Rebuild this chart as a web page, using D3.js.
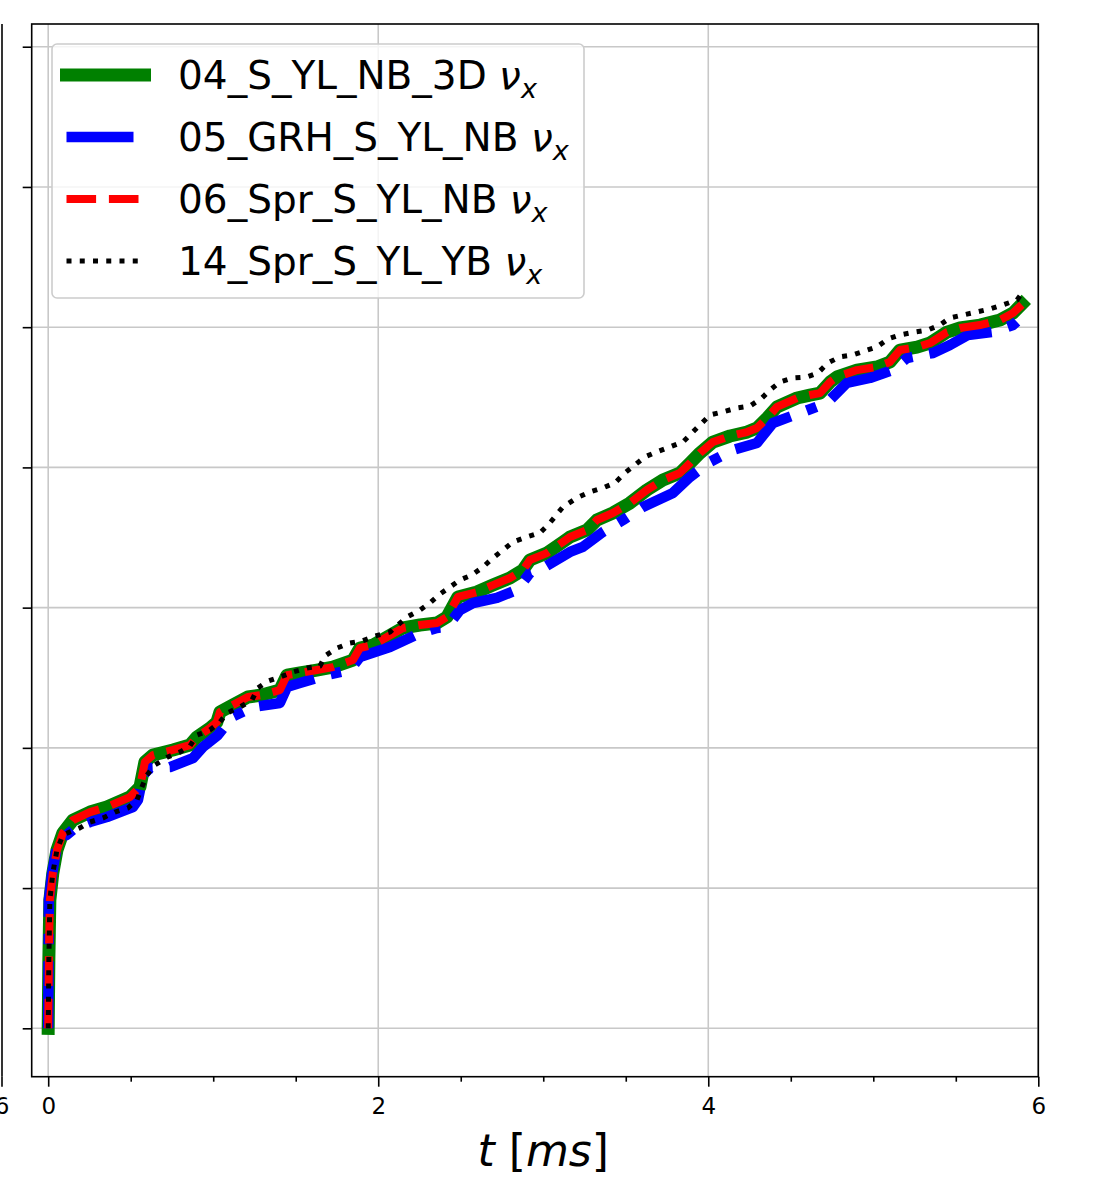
<!DOCTYPE html>
<html>
<head>
<meta charset="utf-8">
<script src="https://cdn.jsdelivr.net/npm/d3@7"></script>
<style>
  body { margin: 0; background: #fff; }
  svg { display: block; font-family: "DejaVu Sans", sans-serif; }
</style>
</head>
<body>
<svg id="chart" width="1101" height="1182"></svg>
<script>
// Velocity histories nu_x against time t [ms], one [t, value] list per run
const run04 = [[0,0],[0.004,0.487],[0.010,0.915],[0.028,1.107],[0.053,1.271],[0.089,1.393],[0.150,1.485],[0.253,1.542],[0.356,1.578],[0.495,1.649],[0.556,1.721],[0.586,1.899],[0.635,1.949],[0.756,1.985],[0.859,2.020],[0.901,2.077],[0.980,2.141],[1.022,2.184],[1.041,2.256],[1.119,2.305],[1.210,2.363],[1.295,2.377],[1.404,2.412],[1.447,2.519],[1.525,2.534],[1.628,2.555],[1.725,2.576],[1.847,2.626],[1.889,2.712],[1.968,2.733],[2.053,2.790],[2.150,2.855],[2.253,2.876],[2.356,2.890],[2.416,2.933],[2.483,3.076],[2.598,3.111],[2.695,3.161],[2.798,3.211],[2.877,3.268],[2.919,3.340],[3.022,3.389],[3.119,3.468],[3.162,3.504],[3.265,3.553],[3.325,3.625],[3.422,3.675],[3.525,3.746],[3.628,3.839],[3.725,3.910],[3.828,3.960],[3.889,4.031],[3.950,4.103],[4.028,4.181],[4.132,4.224],[4.235,4.252],[4.295,4.281],[4.356,4.352],[4.416,4.431],[4.538,4.495],[4.616,4.516],[4.677,4.530],[4.738,4.609],[4.780,4.645],[4.901,4.694],[5.022,4.716],[5.101,4.752],[5.162,4.837],[5.265,4.858],[5.344,4.887],[5.447,4.965],[5.525,4.994],[5.647,5.015],[5.768,5.051],[5.847,5.101],[5.900,5.165]];

const run05 = [[0,0],[0.002,0.487],[0.004,0.915],[0.022,1.094],[0.047,1.258],[0.083,1.365],[0.113,1.380],[0.162,1.429],[0.253,1.471],[0.356,1.507],[0.513,1.578],[0.544,1.628],[0.574,1.806],[0.616,1.856],[0.738,1.863],[0.877,1.927],[0.938,2.006],[1.028,2.091],[1.113,2.220],[1.240,2.291],[1.404,2.320],[1.447,2.434],[1.525,2.462],[1.689,2.519],[1.828,2.555],[1.889,2.648],[2.071,2.719],[2.253,2.819],[2.356,2.855],[2.416,2.862],[2.495,2.983],[2.574,3.033],[2.719,3.069],[2.840,3.126],[2.919,3.247],[2.998,3.283],[3.162,3.397],[3.240,3.433],[3.362,3.540],[3.483,3.625],[3.604,3.718],[3.786,3.818],[3.889,3.932],[4.010,4.039],[4.150,4.124],[4.295,4.174],[4.392,4.317],[4.556,4.388],[4.719,4.460],[4.840,4.603],[4.980,4.638],[5.119,4.695],[5.204,4.780],[5.362,4.816],[5.465,4.873],[5.574,4.944],[5.725,4.966],[5.847,5.016],[5.900,5.073]];

const run06 = [[0,0],[0.004,0.487],[0.010,0.915],[0.028,1.107],[0.053,1.271],[0.089,1.393],[0.150,1.485],[0.253,1.542],[0.356,1.578],[0.495,1.649],[0.556,1.721],[0.586,1.899],[0.635,1.949],[0.756,1.985],[0.859,2.020],[0.901,2.077],[0.980,2.141],[1.022,2.184],[1.041,2.256],[1.119,2.305],[1.210,2.363],[1.295,2.377],[1.404,2.412],[1.447,2.519],[1.525,2.534],[1.628,2.555],[1.725,2.576],[1.847,2.626],[1.889,2.712],[1.968,2.733],[2.053,2.790],[2.150,2.855],[2.253,2.876],[2.356,2.890],[2.416,2.933],[2.483,3.076],[2.598,3.111],[2.695,3.161],[2.798,3.211],[2.877,3.268],[2.919,3.340],[3.022,3.389],[3.119,3.468],[3.162,3.504],[3.265,3.553],[3.325,3.625],[3.422,3.675],[3.525,3.746],[3.628,3.839],[3.725,3.910],[3.828,3.960],[3.889,4.031],[3.950,4.103],[4.028,4.181],[4.132,4.224],[4.235,4.252],[4.295,4.281],[4.356,4.352],[4.416,4.431],[4.538,4.495],[4.616,4.516],[4.677,4.530],[4.738,4.609],[4.780,4.645],[4.901,4.694],[5.022,4.716],[5.101,4.752],[5.162,4.837],[5.265,4.858],[5.344,4.887],[5.447,4.965],[5.525,4.994],[5.647,5.015],[5.768,5.051],[5.847,5.101],[5.900,5.160]];

const run14 = [[0,0],[0.004,0.487],[0.010,0.915],[0.028,1.107],[0.053,1.271],[0.089,1.379],[0.132,1.401],[0.192,1.429],[0.253,1.471],[0.332,1.500],[0.404,1.542],[0.483,1.571],[0.538,1.628],[0.568,1.721],[0.598,1.806],[0.647,1.878],[0.725,1.935],[0.798,1.970],[0.859,2.013],[0.901,2.091],[0.980,2.127],[1.041,2.184],[1.083,2.248],[1.162,2.291],[1.235,2.341],[1.271,2.427],[1.331,2.476],[1.404,2.505],[1.483,2.541],[1.568,2.569],[1.647,2.583],[1.677,2.655],[1.750,2.712],[1.828,2.747],[1.901,2.762],[1.980,2.797],[2.071,2.826],[2.174,2.933],[2.253,2.983],[2.313,3.033],[2.374,3.097],[2.435,3.147],[2.495,3.197],[2.568,3.233],[2.635,3.290],[2.695,3.354],[2.756,3.411],[2.816,3.468],[2.901,3.504],[2.980,3.533],[3.040,3.604],[3.119,3.718],[3.204,3.783],[3.283,3.825],[3.362,3.854],[3.435,3.890],[3.495,3.961],[3.556,4.018],[3.616,4.075],[3.689,4.111],[3.768,4.146],[3.847,4.182],[3.901,4.246],[3.950,4.303],[4.010,4.374],[4.089,4.396],[4.174,4.424],[4.253,4.438],[4.325,4.495],[4.374,4.552],[4.435,4.609],[4.513,4.638],[4.598,4.645],[4.665,4.674],[4.725,4.745],[4.798,4.788],[4.877,4.802],[4.950,4.831],[5.022,4.859],[5.089,4.916],[5.162,4.945],[5.253,4.966],[5.332,4.980],[5.404,5.016],[5.465,5.066],[5.544,5.087],[5.628,5.109],[5.707,5.130],[5.786,5.159],[5.871,5.194],[5.900,5.240]];

const seriesLabels = ["04_S_YL_NB_3D", "05_GRH_S_YL_NB", "06_Spr_S_YL_NB", "14_Spr_S_YL_YB"];
const xMajorTicks = [0, 2, 4, 6];
const xMinorTicks = [0.5, 1, 1.5, 2.5, 3, 3.5, 4.5, 5, 5.5];
const yMajorTicks = [0, 1, 2, 3, 4, 5, 6, 7];

// Line styles, drawn bottom to top
const styles = [
  { color: "#008000", width: 13,   dash: null,              cap: "square" },
  { color: "#0000ff", width: 10.5, dash: "67,17,10.5,17",   cap: "butt" },
  { color: "#ff0000", width: 8,    dash: "29.6,12.8",       cap: "butt" },
  { color: "#000000", width: 5,    dash: "5,8.25",          cap: "butt" }
];
const runs = [run04, run05, run06, run14];

const svg = d3.select("#chart");
const plot = { left: 31.7, right: 1038.3, top: 24, bottom: 1076.7 };

const x = d3.scaleLinear().domain([-0.1, 6]).range([plot.left, plot.right]);
const y = d3.scaleLinear().domain([-0.345, 7.162]).range([plot.bottom, plot.top]);

// Neighbouring panel edge on the far left
const neighbour = svg.append("g");
neighbour.append("line").attr("x1", 2).attr("x2", 2).attr("y1", plot.top).attr("y2", plot.bottom)
  .attr("stroke", "#000").attr("stroke-width", 1.6);
neighbour.append("line").attr("x1", 2).attr("x2", 2).attr("y1", plot.bottom).attr("y2", plot.bottom + 10)
  .attr("stroke", "#000").attr("stroke-width", 1.6);
neighbour.append("text").attr("x", 2).attr("y", plot.bottom + 21).attr("dy", "0.71em")
  .attr("text-anchor", "middle").attr("font-size", 23).text("6");

// Grid
const grid = svg.append("g").attr("stroke", "#c8c8c8").attr("stroke-width", 1.6);
grid.selectAll("line.v").data(xMajorTicks).join("line").attr("class", "v")
  .attr("x1", d => x(d)).attr("x2", d => x(d)).attr("y1", plot.top).attr("y2", plot.bottom);
grid.selectAll("line.h").data(yMajorTicks).join("line").attr("class", "h")
  .attr("x1", plot.left).attr("x2", plot.right).attr("y1", d => y(d)).attr("y2", d => y(d));

// Curves
svg.append("clipPath").attr("id", "clip").append("rect")
  .attr("x", plot.left).attr("y", plot.top)
  .attr("width", plot.right - plot.left).attr("height", plot.bottom - plot.top);

const line = d3.line().x(d => x(d[0])).y(d => y(d[1]));
const curves = svg.append("g").attr("clip-path", "url(#clip)");
runs.forEach((run, i) => {
  const s = styles[i];
  curves.append("path").datum(run).attr("d", line)
    .attr("fill", "none").attr("stroke", s.color).attr("stroke-width", s.width)
    .attr("stroke-linejoin", "round").attr("stroke-linecap", s.cap)
    .attr("stroke-dasharray", s.dash);
});

// Axes
const xAxis = svg.append("g").attr("transform", `translate(0,${plot.bottom})`)
  .call(d3.axisBottom(x).tickValues(xMajorTicks).tickFormat(d3.format("d")).tickSize(10).tickPadding(11));
const xMinor = svg.append("g").attr("transform", `translate(0,${plot.bottom})`)
  .call(d3.axisBottom(x).tickValues(xMinorTicks).tickFormat("").tickSize(5));
const yAxis = svg.append("g").attr("transform", `translate(${plot.left},0)`)
  .call(d3.axisLeft(y).tickValues(yMajorTicks).tickFormat("").tickSize(9));
[xAxis, xMinor, yAxis].forEach(g => {
  g.select(".domain").remove();
  g.selectAll(".tick line").attr("stroke", "#000").attr("stroke-width", 1.6);
  g.selectAll("text").attr("font-size", 23).attr("fill", "#000").attr("font-family", "DejaVu Sans");
});

// Frame
svg.append("rect").attr("x", plot.left).attr("y", plot.top)
  .attr("width", plot.right - plot.left).attr("height", plot.bottom - plot.top)
  .attr("fill", "none").attr("stroke", "#000").attr("stroke-width", 1.6);

// Axis title  t [ms]
const xt = svg.append("text").attr("x", (x(0) + x(6)) / 2).attr("y", 1166)
  .attr("text-anchor", "middle").attr("font-size", 44);
xt.append("tspan").attr("font-style", "italic").text("t");
xt.append("tspan").text(" [");
xt.append("tspan").attr("font-style", "italic").text("ms");
xt.append("tspan").text("]");

// Legend
const legend = svg.append("g");
legend.append("rect").attr("x", 52).attr("y", 44).attr("width", 532).attr("height", 254)
  .attr("rx", 5).attr("fill", "#fff").attr("fill-opacity", 0.8)
  .attr("stroke", "#cccccc").attr("stroke-width", 1.6);
const rowY = [75, 137, 199, 261];
seriesLabels.forEach((lab, i) => {
  const s = styles[i];
  legend.append("line").attr("x1", 66.5).attr("x2", 144.5).attr("y1", rowY[i]).attr("y2", rowY[i])
    .attr("stroke", s.color).attr("stroke-width", s.width)
    .attr("stroke-linecap", s.cap).attr("stroke-dasharray", s.dash);
  const t = legend.append("text").attr("x", 178).attr("y", rowY[i] + 14).attr("font-size", 39).attr("fill", "#000");
  t.append("tspan").text(lab + " ");
  t.append("tspan").attr("font-style", "italic").text("\u03bd");
  t.append("tspan").attr("font-style", "italic").attr("font-size", 27).attr("dy", 9).text("x");
});
</script>
</body>
</html>
